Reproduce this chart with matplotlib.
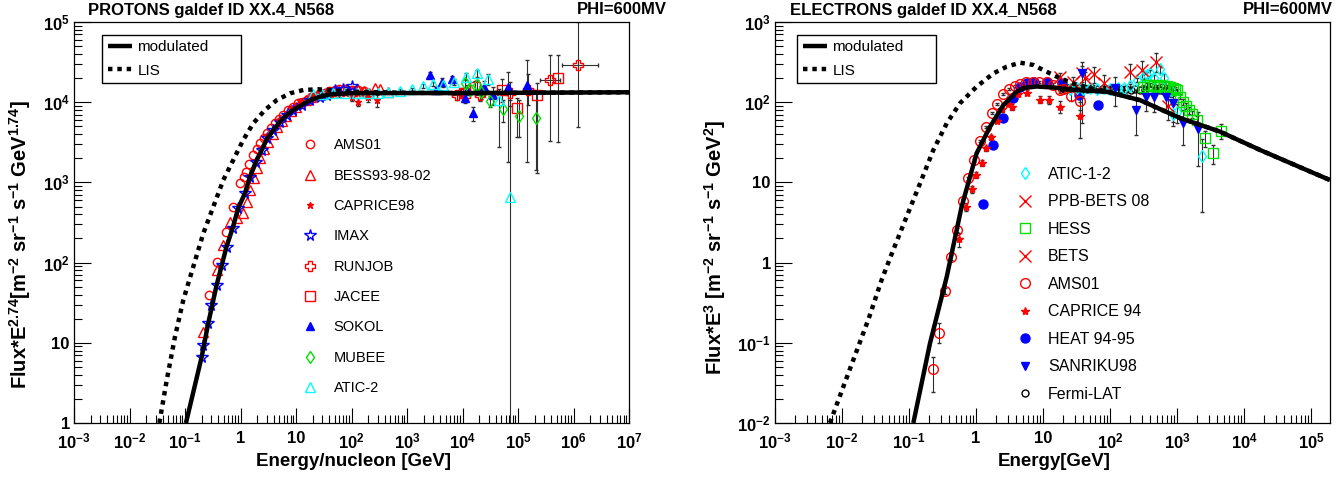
import numpy as np
import matplotlib
matplotlib.use('Agg')
from matplotlib import pyplot as plt
from matplotlib.ticker import LogLocator, FuncFormatter, NullFormatter
from matplotlib.lines import Line2D

plt.rcParams['font.family'] = ['Liberation Sans', 'DejaVu Sans']
plt.rcParams['font.weight'] = 'bold'
plt.rcParams['mathtext.fontset'] = 'custom'
plt.rcParams['mathtext.rm'] = 'Liberation Sans:bold'
plt.rcParams['mathtext.bf'] = 'Liberation Sans:bold'
plt.rcParams['mathtext.it'] = 'Liberation Sans:bold'

#---------------------------------------------------------------------------
#   protoni: curve del modello (Flux*E^2.74)
#---------------------------------------------------------------------------
E_p_mod = [0.104, 0.15, 0.2, 0.26, 0.37, 0.46, 0.56, 0.72, 0.91, 1.2, 1.48, 1.9, 2.41, 3.04,
           3.9, 5.15, 6.8, 8.9, 12.7, 17.9, 27, 40, 100, 1e3, 1e4, 1e5, 1e6, 1e7]
F_p_mod = [1, 2.9, 6.7, 17, 52, 93, 158, 268, 476, 731, 1180, 1810, 2540, 3550,
           4500, 5710, 6920, 8000, 9230, 1.06e4, 1.17e4, 1.25e4, 1.3e4, 1.3e4, 1.3e4, 1.31e4, 1.32e4, 1.33e4]
E_p_lis = [0.0345, 0.0468, 0.066, 0.093, 0.141, 0.214, 0.324, 0.49, 0.74, 1.12, 1.7, 2.76, 4.49,
           7.8, 13.6, 25, 50, 100, 1e3, 1e4, 1e5, 1e6, 1e7]
F_p_lis = [1.0, 3.4, 11.9, 34, 89, 232, 498, 1070, 1900, 3380, 5460, 8000, 1.06e4,
           1.29e4, 1.42e4, 1.45e4, 1.4e4, 1.35e4, 1.31e4, 1.3e4, 1.31e4, 1.32e4, 1.33e4]

#---------------------------------------------------------------------------
#   protoni: dati sperimentali
#---------------------------------------------------------------------------
ams_p_E = [0.274, 0.37, 0.54, 0.74, 0.98, 1.15, 1.26, 1.45, 1.7, 1.95, 2.24, 2.6, 2.96, 3.5, 4.2, 5.0,
           5.9, 7.2, 8.9, 11, 13.5, 15.6, 19, 23, 27, 33, 40, 50, 60, 75, 100, 130, 170]
ams_p_F = [39.5, 103, 243, 498, 975, 1180, 1360, 1700, 2200, 2600, 3070, 3600, 4100, 4800, 5460, 6200,
           6920, 7900, 8790, 9700, 1.02e4, 1.06e4, 1.15e4, 1.2e4, 1.23e4, 1.3e4, 1.38e4, 1.4e4, 1.45e4,
           1.45e4, 1.42e4, 1.4e4, 1.38e4]

bess_E = [0.214, 0.37, 0.49, 0.64, 0.85, 1.09, 1.3, 1.48, 1.75, 1.97, 2.24, 2.7, 3.17, 3.8, 4.6, 5.5,
          6.6, 8, 9.8, 12, 15, 19, 24, 30, 38, 48, 60, 80, 100, 130, 170, 209, 260, 327, 461]
bess_F = [13.7, 81, 166, 320, 360, 412, 575, 800, 1150, 1500, 2000, 2600, 3210, 4000, 4900, 5800,
          6700, 7800, 8800, 9800, 1.07e4, 1.15e4, 1.22e4, 1.28e4, 1.33e4, 1.37e4, 1.38e4, 1.4e4, 1.38e4,
          1.42e4, 1.38e4, 1.3e4, 1.52e4, 1.45e4, 1.35e4]

caprice_p_E = [3, 5, 8, 12, 20, 35, 60, 100, 132, 200, 284]
caprice_p_F = [3800, 6000, 8500, 1.05e4, 1.2e4, 1.3e4, 1.25e4, 1.15e4, 1.01e4, 1.15e4, 1.06e4]
caprice_p_err = [200, 300, 400, 500, 600, 700, 800, 1000, 1200, 1500, 1800]

imax_E = [0.2, 0.214, 0.263, 0.3, 0.37, 0.46, 0.56, 0.72, 0.91, 1.2, 1.48, 1.9, 2.41, 3.04, 3.9,
          5.15, 6.8, 8.9, 12.7, 17.9, 27, 35.7, 50, 70, 101]
imax_F = [6.7, 9.4, 17.5, 29.6, 52.6, 93, 158, 268, 476, 731, 1180, 1810, 2540, 3550, 4500,
          5710, 6920, 8000, 9230, 1.06e4, 1.17e4, 1.23e4, 1.4e4, 1.45e4, 1.6e4]

runjob_E = [7860, 9500, 2.07e4, 7.2e4, 1.53e5, 3.8e5, 1.22e6]
runjob_F = [1.23e4, 1.3e4, 1.23e4, 1.3e4, 1.42e4, 1.9e4, 2.91e4]
runjob_lo = [1500, 1500, 2000, 4000, 5000, 15700, 24200]
runjob_hi = [1500, 1500, 2500, 5000, 8000, 20000, 71000]
runjob_xlo = [1500, 1800, 4000, 1.5e4, 3e4, 1.3e5, 5.9e5]
runjob_xhi = [1500, 1800, 4000, 1.5e4, 3e4, 2.0e5, 1.5e6]

jacee_E = [1.1e4, 1.68e4, 5.1e4, 9.5e4, 2.2e5, 5.3e5]
jacee_F = [1.3e4, 1.56e4, 1.42e4, 8500, 1.23e4, 1.99e4]
jacee_lo = [2000, 3000, 4000, 4800, 11000, 16700]
jacee_hi = [2000, 3000, 5000, 2800, 5000, 19000]

sokol_E = [2600, 3400, 4200, 6400, 1.1e4, 1.19e4, 1.57e4, 2.4e4, 3.6e4, 6.7e4, 1.43e5]
sokol_F = [2.18e4, 1.4e4, 1.8e4, 1.93e4, 1.12e4, 1.42e4, 7280, 1.56e4, 1.23e4, 1.56e4, 1.64e4]
sokol_lo = [2000, 1500, 1800, 2000, 1500, 2000, 1500, 3000, 3000, 13800, 14600]
sokol_hi = [2000, 1500, 1800, 2000, 1500, 2000, 1500, 3000, 3000, 8000, 17000]

mubee_E = [1.1e4, 1.36e4, 1.8e4, 2.15e4, 3.1e4, 5.3e4, 1.06e5, 2.1e5]
mubee_F = [1.72e4, 1.42e4, 1.64e4, 1.35e4, 1.03e4, 8150, 6730, 6410]
mubee_lo = [2000, 2000, 2500, 2500, 1500, 2500, 3000, 5000]
mubee_hi = [2000, 2000, 2500, 2500, 1500, 2500, 3800, 7600]

atic2_E = [20, 30, 47, 76, 124, 201, 300, 461, 748, 1220, 1920, 2900, 4510, 7030, 1.14e4, 1.8e4,
           2.92e4, 4.55e4, 7.2e4]
atic2_F = [1.25e4, 1.27e4, 1.3e4, 1.3e4, 1.3e4, 1.3e4, 1.3e4, 1.33e4, 1.39e4, 1.45e4, 1.59e4, 1.68e4,
           1.64e4, 1.8e4, 2.08e4, 2.29e4, 1.95e4, 1.06e4, 664]
atic2_lo = [300, 300, 300, 300, 300, 400, 400, 500, 500, 600, 800, 900, 1000, 1500, 2000, 2500,
            3000, 7850, 663.5]
atic2_hi = [300, 300, 300, 300, 300, 400, 400, 500, 500, 600, 800, 900, 1000, 1500, 2000, 2500,
            3000, 4000, 9900]

#---------------------------------------------------------------------------
#   elettroni: curve del modello (Flux*E^3)
#---------------------------------------------------------------------------
E_e_mod = [0.116, 0.206, 0.366, 0.61, 1.02, 1.62, 2.56, 4.05, 5.1, 8, 15, 22.6, 40, 89, 281, 1110,
           4390, 1.73e4, 1e5, 1.92e5]
F_e_mod = [0.01, 0.099, 0.667, 4.98, 23, 49.5, 92, 135, 150, 157, 152, 145, 140, 135, 106, 63.5,
           42.9, 25.4, 13.5, 10.7]
E_e_lis = [0.0066, 0.0126, 0.025, 0.039, 0.058, 0.092, 0.146, 0.231, 0.366, 0.577, 1.02, 1.82, 2.87,
           4.54, 7.2, 11.3, 17.9, 30, 50, 89, 281, 1110, 4390, 1.73e4, 1e5, 1.92e5]
F_e_lis = [0.01, 0.043, 0.2, 0.607, 1.43, 3.73, 9.7, 25.4, 54.6, 97, 156, 229, 277,
           311, 291, 240, 199, 168, 150, 137, 106, 63.5, 42.9, 25.4, 13.5, 10.7]

#---------------------------------------------------------------------------
#   elettroni: dati sperimentali
#---------------------------------------------------------------------------
atic12_E = [25, 32, 40, 50, 63, 80, 100, 130, 160, 200, 250, 320, 356, 400, 447, 550, 650, 800,
            883, 1000, 2340]
atic12_F = [148, 150, 147, 150, 145, 150, 148, 152, 150, 160, 190, 210, 218, 230, 199, 257, 200, 140,
            71, 75, 21.3]
atic12_lo = [5, 5, 5, 6, 6, 6, 7, 8, 8, 10, 12, 15, 18, 20, 20, 25, 25, 25, 20, 20, 17]
atic12_hi = [5, 5, 5, 6, 6, 6, 7, 8, 8, 10, 12, 15, 18, 20, 20, 25, 25, 25, 20, 20, 13]

ppb_E = [38, 58.6, 80, 199, 297, 486, 740]
ppb_F = [229, 225, 175, 240, 252, 314, 90]
ppb_lo = [50, 50, 45, 60, 60, 74, 30]
ppb_hi = [50, 50, 45, 60, 70, 93, 30]

hess_E = [316, 360, 400, 450, 500, 560, 630, 700, 785, 870, 940, 1000, 1110, 1230, 1380, 1500, 1700,
          2000, 2620, 3430, 4500]
hess_F = [156, 165, 165, 160, 156, 162, 160, 158, 156, 152, 148, 140, 117, 101, 90, 80, 71,
          60, 35.4, 23, 44.2]
hess_err = [8, 8, 8, 8, 8, 8, 8, 8, 8, 8, 8, 8, 8, 8, 8, 8, 7, 7, 8, 6, 9]

bets_E = [17.9, 28.5, 42]
bets_F = [208, 180, 200]
bets_err = [25, 25, 35]

ams_e_E = [0.226, 0.281, 0.344, 0.42, 0.519, 0.63, 0.77, 0.94, 1.15, 1.41, 1.71, 2.08, 2.56, 3.1,
           3.82, 4.6, 5.57, 7, 8.8, 11.3, 14.3, 17.9, 20.1, 26, 35.5]
ams_e_F = [0.0467, 0.134, 0.447, 1.16, 2.55, 5.9, 11.2, 19, 33, 48.6, 72.8, 95, 126, 145,
           159, 170, 177, 180, 180, 180, 165, 140, 145, 120, 105]
ams_e_lo = [0.022, 0.034, 0.04, 0.08, 0.15, 0.3, 0.5, 0.8, 1, 1.5, 2, 3, 3, 4,
            4, 4, 5, 5, 5, 6, 7, 8, 10, 15, 25]
ams_e_hi = [0.02, 0.043, 0.04, 0.08, 0.15, 0.3, 0.5, 0.8, 1, 1.5, 2, 3, 3, 4,
            4, 4, 5, 5, 5, 6, 7, 8, 10, 15, 25]

caprice_e_E = [0.557, 0.71, 0.863, 1.0, 1.22, 1.41, 1.67, 2.04, 2.42, 3.04, 3.5, 4.29, 5.7, 8.9,
               12.4, 17.9, 35.5]
caprice_e_F = [1.95, 4.98, 8.2, 12.4, 17.3, 26.6, 36.5, 58.9, 81.5, 95, 87, 126, 131, 108,
               106, 88, 67.6]
caprice_e_err = [0.4, 0.6, 0.8, 1.2, 1.5, 2, 3, 4, 5, 6, 8, 8, 9, 10, 12, 15, 32]

heat_E = [1.27, 1.79, 2.52, 3.53, 4.54, 5.7, 7.35, 11.3, 19, 34.6, 65.8]
heat_F = [5.33, 29.2, 63, 114, 156, 172, 180, 180, 172, 123, 92.5]

sanriku_E = [38, 119, 244, 350, 447, 685, 883, 1220, 2090]
sanriku_F = [233, 149, 80, 117, 115, 115, 97, 54.6, 46]
sanriku_lo = [178, 60, 41, 40, 40, 40, 40, 25, 30]
sanriku_hi = [87, 60, 62, 40, 40, 40, 40, 25, 30]

fermi_E = [20, 24, 28, 33, 39, 46, 54, 64, 75, 89, 105, 124, 146, 172, 203, 240, 283, 334, 394,
           465, 549, 647, 764, 900]
fermi_F = [152, 150, 151, 149, 150, 148, 149, 147, 148, 146, 147, 145, 146, 144, 143, 145, 142,
           143, 141, 140, 141, 139, 137, 135]

RED = '#ff0000'
BLUE = '#0000ff'
GREEN = '#00e000'
CYAN = '#00ffff'
EC = '#303030'


def log_label(v, pos):
    e = int(round(np.log10(v)))
    if e == 0:
        return '1'
    if e == 1:
        return '10'
    return r'$\mathbf{10^{%d}}$' % e


def style_axes(ax, xlim, ylim):
    ax.set_xscale('log')
    ax.set_yscale('log')
    ax.set_xlim(*xlim)
    ax.set_ylim(*ylim)
    for a in (ax.xaxis, ax.yaxis):
        a.set_major_locator(LogLocator(base=10, numticks=30))
        a.set_minor_locator(LogLocator(base=10, subs=np.arange(2, 10), numticks=30))
        a.set_major_formatter(FuncFormatter(log_label))
        a.set_minor_formatter(NullFormatter())
    ax.tick_params(which='both', direction='in', top=False, right=False, width=0.8,
                   labelsize=12)
    ax.tick_params(axis='x', which='major', length=11, pad=6)
    ax.tick_params(axis='x', which='minor', length=5.5)
    ax.tick_params(axis='y', which='major', length=12, pad=3)
    ax.tick_params(axis='y', which='minor', length=6)
    for s in ax.spines.values():
        s.set_linewidth(0.9)


def eb(ax, E, F, lo, hi, marker, color, ms, filled=False, xlo=None, xhi=None):
    xerr = None
    if xlo is not None:
        xerr = [xlo, xhi]
    ax.errorbar(E, F, yerr=[lo, hi], xerr=xerr, fmt=marker, ms=ms, mec=color,
                mfc=color if filled else 'none', mew=1.0, ecolor=EC, elinewidth=0.8,
                capsize=1.5, capthick=0.8, zorder=2)


def pts(ax, E, F, marker, color, ms, filled=False):
    ax.plot(E, F, linestyle='none', marker=marker, ms=ms, mec=color,
            mfc=color if filled else 'none', mew=1.0, zorder=2)


def proxy(marker, color, ms, filled=False):
    return Line2D([], [], linestyle='none', marker=marker, ms=ms, mec=color,
                  mfc=color if filled else 'none', mew=1.0)


def curve_legend(ax, mod, lis, box):
    leg = ax.legend([mod, lis], ['modulated', 'LIS'], loc='upper left',
                    bbox_to_anchor=box, mode='expand', borderaxespad=0,
                    fancybox=False, edgecolor='black', framealpha=1, handlelength=1.6,
                    handletextpad=0.35, labelspacing=0.62, borderpad=0.35,
                    prop={'weight': 'normal', 'size': 11})
    leg.get_frame().set_linewidth(1.0)
    ax.add_artist(leg)


fig = plt.figure(figsize=(13.43, 4.78), dpi=100)
W, H = 1343.0, 478.0
ax1 = fig.add_axes([74 / W, 55 / H, 555 / W, 401 / H])
ax2 = fig.add_axes([775 / W, 55 / H, 555 / W, 401 / H])

#---------------------------------------------------------------------------
#   pannello protoni
#---------------------------------------------------------------------------
style_axes(ax1, (1e-3, 1e7), (1, 1e5))

pts(ax1, ams_p_E, ams_p_F, 'o', RED, 6)
pts(ax1, bess_E, bess_F, '^', RED, 6.5)
eb(ax1, caprice_p_E, caprice_p_F, caprice_p_err, caprice_p_err, '*', RED, 5, filled=True)
pts(ax1, imax_E, imax_F, '*', BLUE, 8.5)
eb(ax1, runjob_E, runjob_F, runjob_lo, runjob_hi, 'P', RED, 7,
   xlo=runjob_xlo, xhi=runjob_xhi)
eb(ax1, jacee_E, jacee_F, jacee_lo, jacee_hi, 's', RED, 7)
eb(ax1, sokol_E, sokol_F, sokol_lo, sokol_hi, '^', BLUE, 6, filled=True)
eb(ax1, mubee_E, mubee_F, mubee_lo, mubee_hi, 'd', GREEN, 6)
eb(ax1, atic2_E, atic2_F, atic2_lo, atic2_hi, '^', CYAN, 7)

mod1, = ax1.plot(E_p_mod, F_p_mod, color='black', lw=3.2, zorder=3, solid_capstyle='butt')
lis1, = ax1.plot(E_p_lis, F_p_lis, color='black', lw=3.2, linestyle=(0, (1, 1.1)), zorder=3)
curve_legend(ax1, mod1, lis1, (0.051, 0.842, 0.250, 0.126))

p_names = ['AMS01', 'BESS93-98-02', 'CAPRICE98', 'IMAX', 'RUNJOB', 'JACEE', 'SOKOL', 'MUBEE', 'ATIC-2']
p_handles = [proxy('o', RED, 6), proxy('^', RED, 6.5), proxy('*', RED, 5, True),
             proxy('*', BLUE, 8.5), proxy('P', RED, 7), proxy('s', RED, 7),
             proxy('^', BLUE, 6, True), proxy('d', GREEN, 6), proxy('^', CYAN, 7)]
ax1.legend(p_handles, p_names, loc='upper left', bbox_to_anchor=(0.4126, 0.710),
           frameon=False, borderpad=0, borderaxespad=0, handlelength=1.0, handletextpad=1.1,
           labelspacing=1.12, prop={'weight': 'normal', 'size': 10.5})

#---------------------------------------------------------------------------
#   pannello elettroni
#---------------------------------------------------------------------------
style_axes(ax2, (1e-3, 1.92e5), (1e-2, 1e3))

eb(ax2, atic12_E, atic12_F, atic12_lo, atic12_hi, 'd', CYAN, 6)
eb(ax2, ppb_E, ppb_F, ppb_lo, ppb_hi, 'x', RED, 8)
eb(ax2, hess_E, hess_F, hess_err, hess_err, 's', GREEN, 7)
eb(ax2, bets_E, bets_F, bets_err, bets_err, 'x', RED, 8)
eb(ax2, ams_e_E, ams_e_F, ams_e_lo, ams_e_hi, 'o', RED, 7)
eb(ax2, caprice_e_E, caprice_e_F, caprice_e_err, caprice_e_err, '*', RED, 6, filled=True)
pts(ax2, heat_E, heat_F, 'o', BLUE, 6.5, filled=True)
eb(ax2, sanriku_E, sanriku_F, sanriku_lo, sanriku_hi, 'v', BLUE, 6, filled=True)
pts(ax2, fermi_E, fermi_F, 'o', 'black', 5)

mod2, = ax2.plot(E_e_mod, F_e_mod, color='black', lw=3.2, zorder=3, solid_capstyle='butt')
lis2, = ax2.plot(E_e_lis, F_e_lis, color='black', lw=3.2, linestyle=(0, (1, 1.1)), zorder=3)
curve_legend(ax2, mod2, lis2, (0.040, 0.842, 0.250, 0.126))

e_names = ['ATIC-1-2', 'PPB-BETS 08', 'HESS', 'BETS', 'AMS01', 'CAPRICE 94', 'HEAT 94-95',
           'SANRIKU98', 'Fermi-LAT']
e_handles = [proxy('d', CYAN, 6), proxy('x', RED, 8), proxy('s', GREEN, 7), proxy('x', RED, 8),
             proxy('o', RED, 7), proxy('*', RED, 6, True), proxy('o', BLUE, 6.5, True),
             proxy('v', BLUE, 6, True), proxy('o', 'black', 5)]
ax2.legend(e_handles, e_names, loc='upper left', bbox_to_anchor=(0.436, 0.6385),
           frameon=False, borderpad=0, borderaxespad=0, handlelength=1.0, handletextpad=0.94,
           labelspacing=0.78, prop={'weight': 'normal', 'size': 11.5})

#---------------------------------------------------------------------------
#   titoli ed etichette
#---------------------------------------------------------------------------
fig.text(88 / W, 1 - 10 / H, 'PROTONS galdef ID XX.4_N568', ha='left', va='center', fontsize=12)
fig.text(667 / W, 1 - 10 / H, 'PHI=600MV', ha='right', va='center', fontsize=12)
fig.text(790 / W, 1 - 10 / H, 'ELECTRONS galdef ID XX.4_N568', ha='left', va='center', fontsize=12)
fig.text(1333 / W, 1 - 10 / H, 'PHI=600MV', ha='right', va='center', fontsize=12)

fig.text(353 / W, 1 - 462 / H, 'Energy/nucleon [GeV]', ha='center', va='center', fontsize=13.5)
fig.text(1054 / W, 1 - 462 / H, 'Energy[GeV]', ha='center', va='center', fontsize=13.5)

fig.text(20 / W, 1 - 245 / H, r'Flux*E$^{2.74}$[m$^{-2}$ sr$^{-1}$ s$^{-1}$ GeV$^{1.74}$]',
         ha='center', va='center', rotation=90, fontsize=14.5)
fig.text(715 / W, 1 - 247 / H, r'Flux*E$^{3}$ [m$^{-2}$ sr$^{-1}$ s$^{-1}$ GeV$^{2}$]',
         ha='center', va='center', rotation=90, fontsize=14.5)

plt.savefig('out.png', dpi=100)
